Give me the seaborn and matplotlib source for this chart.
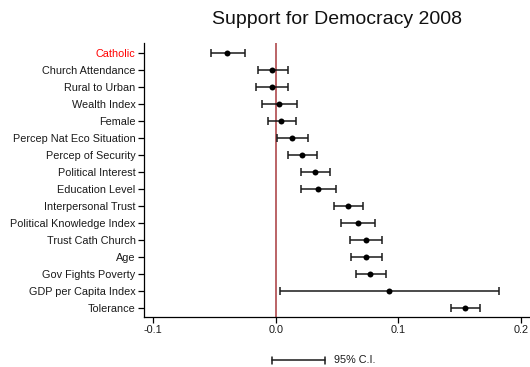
import matplotlib
matplotlib.use("Agg")
import matplotlib.pyplot as plt
from matplotlib.lines import Line2D
import seaborn as sns
import pandas as pd
import numpy as np

variables = ["Catholic", "Church Attendance", "Rural to Urban", "Wealth Index", "Female",
             "Percep Nat Eco Situation", "Percep of Security", "Political Interest",
             "Education Level", "Interpersonal Trust", "Political Knowledge Index",
             "Trust Cath Church", "Age", "Gov Fights Poverty", "GDP per Capita Index",
             "Tolerance"]
estimate = [-0.0394, -0.0027, -0.0033, 0.0030, 0.0046, 0.0133, 0.0217, 0.0323,
            0.0345, 0.0592, 0.0671, 0.0734, 0.0739, 0.0772, 0.0924, 0.1546]
ci_low = [-0.0530, -0.0144, -0.0158, -0.0114, -0.0065, 0.0008, 0.0098, 0.0207,
          0.0204, 0.0473, 0.0533, 0.0606, 0.0617, 0.0655, 0.0033, 0.1435]
ci_high = [-0.0253, 0.0101, 0.0101, 0.0174, 0.0166, 0.0261, 0.0340, 0.0443,
           0.0495, 0.0715, 0.0813, 0.0870, 0.0864, 0.0902, 0.1823, 0.1666]
xticks = [-0.1, 0.0, 0.1, 0.2]
xtick_labels = ["-0.1", "0.0", "0.1", "0.2"]

sns.set_style("ticks")
plt.rcParams['font.family'] = ['Liberation Sans', 'DejaVu Sans']

df = pd.DataFrame({"variable": variables, "estimate": estimate,
                   "low": ci_low, "high": ci_high})

W, H = 530, 367
fig = plt.figure(figsize=(W / 100, H / 100), dpi=100)
ax = fig.add_axes([144 / W, 1 - 316.7 / H, (W - 144) / W, (316.7 - 43.3) / H])

ax.axvline(0, color="#b5575a", lw=1.3, zorder=1)

ypos = np.arange(len(df))
est = df["estimate"].to_numpy()
xerr = np.vstack([est - df["low"].to_numpy(), df["high"].to_numpy() - est])
ax.errorbar(est, ypos, xerr=xerr, fmt="none", ecolor="#1a1a1a",
            elinewidth=1.1, capsize=3, capthick=1.1, zorder=2)

sns.pointplot(data=df, x="estimate", y="variable", order=variables,
              orient="h", linestyle="none", errorbar=None, color="black",
              markers="o", markersize=4.3, markeredgewidth=0, ax=ax, zorder=3)

ax.set_xlim(-0.1075, 0.2076)
ax.set_ylim(len(variables) - 0.51, -0.57)
ax.set_xticks(xticks)
ax.set_xticklabels(xtick_labels)
ax.set_xlabel("")
ax.set_ylabel("")
ax.tick_params(axis="both", labelsize=7.8, length=4, width=0.9, color="black",
               labelcolor="#1a1a1a", pad=2)
for s in ["top", "right"]:
    ax.spines[s].set_visible(False)
for s in ["left", "bottom"]:
    ax.spines[s].set_color("black")
    ax.spines[s].set_linewidth(0.9)
ax.get_yticklabels()[0].set_color("red")

ax.set_title("Support for Democracy 2008", fontsize=14, pad=14, color="#111111")

# CI legend at the bottom
fig.add_artist(Line2D([271.7 / W, 325 / W], [1 - 360 / H, 1 - 360 / H],
                      color="#1a1a1a", lw=1.1))
for xx in (271.7, 325):
    fig.add_artist(Line2D([xx / W, xx / W], [1 - 356.5 / H, 1 - 363.5 / H],
                          color="#1a1a1a", lw=1.1))
fig.text(334 / W, 1 - 360 / H, "95% C.I.", fontsize=7.8, va="center", ha="left",
         color="#1a1a1a")

fig.savefig("out.png", dpi=100)
